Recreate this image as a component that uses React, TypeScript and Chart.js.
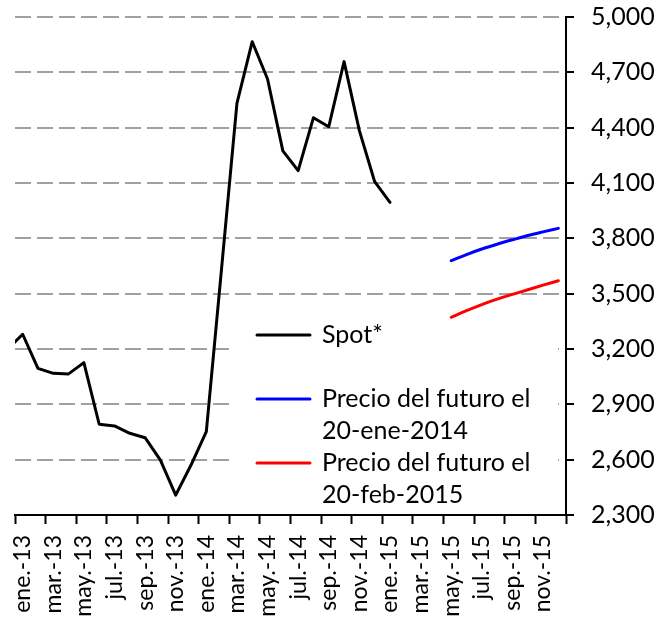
import React, { useEffect, useRef } from "react";
import { Chart, registerables } from "chart.js";

Chart.register(...registerables);

// Monthly categories (first one only feeds the clipped segment at the left edge)
const months = [
  "dic.-12",
  "ene.-13", "feb.-13", "mar.-13", "abr.-13", "may.-13", "jun.-13",
  "jul.-13", "ago.-13", "sep.-13", "oct.-13", "nov.-13", "dic.-13",
  "ene.-14", "feb.-14", "mar.-14", "abr.-14", "may.-14", "jun.-14",
  "jul.-14", "ago.-14", "sep.-14", "oct.-14", "nov.-14", "dic.-14",
  "ene.-15", "feb.-15", "mar.-15", "abr.-15", "may.-15", "jun.-15",
  "jul.-15", "ago.-15", "sep.-15", "oct.-15", "nov.-15", "dic.-15",
];

// Spot price, from dic.-12 to ene.-15
const spot = [
  3197, 3280, 3095, 3068, 3065, 3126, 2792, 2783, 2743, 2719, 2598, 2408, 2571,
  2752, 3640, 4532, 4866, 4664, 4274, 4167, 4454, 4405, 4758, 4384, 4107, 3995,
];

// Futures curves, from may.-15 to dic.-15
const futuresStart = "may.-15";
const futuresJan2014 = [3679, 3712, 3742, 3768, 3792, 3815, 3835, 3854];
const futuresFeb2015 = [3372, 3408, 3441, 3470, 3496, 3521, 3546, 3570];

const yTicksMin = 2300;
const yTicksMax = 5000;
const yTicksStep = 300;

const seriesNames = ["Spot*", "Precio del futuro el\n20-ene-2014", "Precio del futuro el\n20-feb-2015"];
const seriesColors = ["#000000", "#0000ff", "#ff0000"];

const FONT = "Lato, 'Open Sans', sans-serif";

function padFrom(startLabel: string, arr: number[]) {
  const s = months.indexOf(startLabel);
  return months.map((_, i) => (i >= s && i - s < arr.length ? arr[i - s] : null));
}

const legendPlugin = {
  id: "boxLegend",
  beforeDatasetsDraw(chart: any) {
    const { ctx, chartArea } = chart;
    const left = chartArea.left + 217;
    const top = chartArea.top + 301;
    ctx.save();
    ctx.fillStyle = "#ffffff";
    ctx.fillRect(left, top, chartArea.right - 8 - left, chartArea.bottom - 1 - top);
    const rows = [
      { y: chartArea.top + 318 },
      { y: chartArea.top + 382 },
      { y: chartArea.top + 446 },
    ];
    ctx.font = `25px ${FONT}`;
    ctx.textBaseline = "middle";
    ctx.textAlign = "left";
    rows.forEach((r, i) => {
      ctx.strokeStyle = seriesColors[i];
      ctx.lineWidth = 3;
      ctx.lineCap = "round";
      ctx.beginPath();
      ctx.moveTo(chartArea.left + 242, r.y);
      ctx.lineTo(chartArea.left + 295, r.y);
      ctx.stroke();
      ctx.fillStyle = "#000";
      seriesNames[i].split("\n").forEach((line, k) => {
        ctx.fillText(line, chartArea.left + 307, r.y + k * 32);
      });
    });
    ctx.restore();
  },
};

export default function App() {
  const ref = useRef<HTMLCanvasElement | null>(null);
  useEffect(() => {
    let chart: Chart | null = null;
    let cancelled = false;
    const make = () => {
      if (cancelled || !ref.current) return;
      chart = new Chart(ref.current, {
        type: "line",
        data: {
          labels: months,
          datasets: [
            {
              label: "Spot*",
              data: months.map((_, i) => (i < spot.length ? spot[i] : null)),
              borderColor: seriesColors[0],
              borderWidth: 3,
              pointRadius: 0,
              borderCapStyle: "round",
              borderJoinStyle: "round",
              spanGaps: false,
            },
            {
              label: "Precio del futuro el 20-ene-2014",
              data: padFrom(futuresStart, futuresJan2014),
              borderColor: seriesColors[1],
              borderWidth: 3,
              pointRadius: 0,
              borderCapStyle: "round",
              borderJoinStyle: "round",
              cubicInterpolationMode: "monotone",
            },
            {
              label: "Precio del futuro el 20-feb-2015",
              data: padFrom(futuresStart, futuresFeb2015),
              borderColor: seriesColors[2],
              borderWidth: 3,
              pointRadius: 0,
              borderCapStyle: "round",
              borderJoinStyle: "round",
              cubicInterpolationMode: "monotone",
            },
          ],
        },
        options: {
          responsive: false,
          animation: false,
          layout: { padding: { left: 15, top: 17, right: 0, bottom: 0 } },
          plugins: { legend: { display: false }, tooltip: { enabled: false } },
          scales: {
            x: {
              type: "category",
              min: "ene.-13",
              offset: true,
              grid: {
                offset: true,
                drawOnChartArea: false,
                tickLength: 9,
                tickWidth: 2,
                tickColor: (c: any) =>
                  c.index === undefined || c.index % 2 === 0 ? "#000" : "rgba(0,0,0,0)",
              },
              border: { color: "#000", width: 2 },
              ticks: {
                autoSkip: false,
                minRotation: 90,
                maxRotation: 90,
                padding: 11,
                color: "#000",
                font: { family: FONT, size: 23 },
                callback: function (this: any, value: any, index: number) {
                  return index % 2 === 0 ? this.getLabelForValue(value) : "";
                },
              },
              afterFit: (s: any) => {
                s.height = 106;
                s.paddingLeft = 0;
                s.paddingRight = 0;
              },
            },
            y: {
              position: "right",
              min: yTicksMin,
              max: yTicksMax,
              grid: {
                color: "#a0a0a0",
                lineWidth: 2,
                tickColor: "#000",
                tickLength: 8,
                tickWidth: 2,
                tickBorderDash: [],
              },
              border: { color: "#000", width: 2, dash: [16, 6] },
              ticks: {
                stepSize: yTicksStep,
                padding: 17,
                color: "#000",
                font: { family: FONT, size: 25 },
                callback: (v: any) => Number(v).toLocaleString("en-US"),
              },
              afterFit: (s: any) => {
                s.width = 100;
                s.paddingTop = 0;
                s.paddingBottom = 0;
              },
            },
          },
        },
        plugins: [legendPlugin],
      } as any);
    };
    const fontsReady = (document as any).fonts
      ? Promise.all([
          (document as any).fonts.load(`23px Lato`),
          (document as any).fonts.load(`25px Lato`),
        ]).catch(() => null)
      : Promise.resolve(null);
    fontsReady.then(make);
    return () => {
      cancelled = true;
      if (chart) chart.destroy();
    };
  }, []);
  return (
    <div style={{ position: "fixed", left: 0, top: 0, width: 666, height: 621, background: "#fff" }}>
      <canvas ref={ref} width={666} height={621} style={{ display: "block", width: 666, height: 621 }} />
    </div>
  );
}
